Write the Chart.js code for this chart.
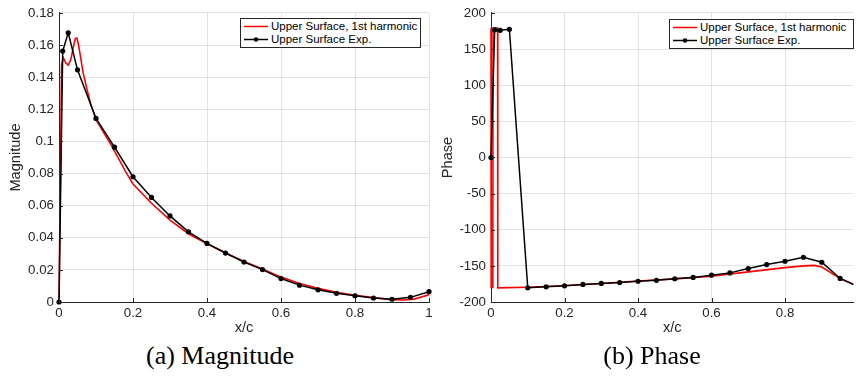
<!DOCTYPE html>
<html><head><meta charset="utf-8">
<script src="https://cdn.jsdelivr.net/npm/chart.js@4/dist/chart.umd.min.js"></script>
<style>
html,body{margin:0;padding:0;background:#fff;}
body{width:856px;height:388px;overflow:hidden;position:relative;font-family:"Liberation Sans",Arial,sans-serif;}
.wrap{position:absolute;top:0;}
.legend{position:absolute;background:#fff;border:1px solid #262626;box-sizing:border-box;font-size:11.5px;color:#000;}
.row{position:absolute;left:2px;height:13px;line-height:13px;white-space:nowrap;}
.row svg{position:absolute;left:0;top:2px;}
.row span{position:absolute;left:28px;top:0;}
.cap{position:absolute;top:341px;width:300px;text-align:center;font-family:"Liberation Serif","Times New Roman",serif;font-size:26px;line-height:30px;color:#000;}
</style></head>
<body>
<div class="wrap" style="left:0;width:440px;height:340px;"><canvas id="c1" width="440" height="340"></canvas></div>
<div class="wrap" style="left:430px;width:426px;height:340px;"><canvas id="c2" width="426" height="340"></canvas></div>

<div class="legend" style="left:240px;top:18px;width:181px;height:30px;">
  <div class="row" style="top:1px;"><svg width="26" height="9"><line x1="1" y1="4.5" x2="25" y2="4.5" stroke="#ff0000" stroke-width="1.5"/></svg><span>Upper Surface, 1st harmonic</span></div>
  <div class="row" style="top:14px;"><svg width="26" height="9"><line x1="1" y1="4.5" x2="25" y2="4.5" stroke="#000" stroke-width="1.5"/><circle cx="13" cy="4.5" r="2.3" fill="#000"/></svg><span>Upper Surface Exp.</span></div>
</div>
<div class="legend" style="left:669px;top:19px;width:185px;height:30px;">
  <div class="row" style="top:1px;"><svg width="26" height="9"><line x1="1" y1="4.5" x2="25" y2="4.5" stroke="#ff0000" stroke-width="1.5"/></svg><span>Upper Surface, 1st harmonic</span></div>
  <div class="row" style="top:14px;"><svg width="26" height="9"><line x1="1" y1="4.5" x2="25" y2="4.5" stroke="#000" stroke-width="1.5"/><circle cx="13" cy="4.5" r="2.3" fill="#000"/></svg><span>Upper Surface Exp.</span></div>
</div>

<div class="cap" style="left:70px;">(a) Magnitude</div>
<div class="cap" style="left:502px;">(b) Phase</div>

<script>
// ---------- DATA ----------
const seriesNames = ["Upper Surface, 1st harmonic", "Upper Surface Exp."];

// Magnitude - experiment
const magExpX = [0,0.01,0.025,0.05,0.1,0.15,0.2,0.25,0.3,0.35,0.4,0.45,0.5,0.55,0.6,0.65,0.7,0.75,0.8,0.85,0.9,0.95,1.0];
const magExpY = [0,0.1563,0.1677,0.1446,0.1143,0.0964,0.078,0.0651,0.0536,0.0437,0.0365,0.0305,0.0249,0.0202,0.0146,0.0105,0.0076,0.0054,0.0039,0.0025,0.0017,0.0029,0.0064];

// Magnitude - 1st harmonic
const magHarmX = [0,0.007,0.012,0.018,0.025,0.032,0.038,0.044,0.048,0.052,0.058,0.065,0.075,0.085,0.1,0.12,0.14,0.16,0.18,0.2,0.25,0.3,0.35,0.4,0.45,0.5,0.55,0.6,0.65,0.7,0.75,0.8,0.85,0.9,0.93,0.96,1.0];
const magHarmY = [0,0.148,0.152,0.149,0.1475,0.151,0.158,0.164,0.1645,0.161,0.153,0.143,0.133,0.124,0.1135,0.1058,0.0982,0.0897,0.0812,0.0735,0.0615,0.051,0.0425,0.0363,0.0305,0.0252,0.0205,0.0155,0.0115,0.0085,0.006,0.0042,0.0027,0.0015,0.0012,0.0018,0.0045];

// Phase - experiment
const phExpX = [0,0.01,0.025,0.05,0.1,0.15,0.2,0.25,0.3,0.35,0.4,0.45,0.5,0.55,0.6,0.65,0.7,0.75,0.8,0.85,0.9,0.95,1.0];
const phExpY = [0,176.5,176,177.5,-180.3,-179,-177.6,-175.7,-174.3,-173,-171.3,-170,-167.8,-166,-162.9,-159.7,-153.7,-148.2,-143.6,-138.1,-145,-167.4,-179];

// Phase - 1st harmonic
const phHarmX = [0,0.0005,0.005,0.0055,0.018,0.0185,0.1,0.2,0.3,0.4,0.5,0.6,0.7,0.8,0.85,0.88,0.9,0.92,0.95,0.986,1.0];
const phHarmY = [179,-180,-180,179,179,-180.5,-179.5,-177.5,-174.5,-171,-168,-164.3,-158.3,-152.4,-150,-149.3,-151.5,-158,-167.4,-175.3,-177];

// Axis ticks
const magXTicks = {min:0, max:1, step:0.2};
const magYTicks = {min:0, max:0.18, step:0.02};
const phXTicks = {min:0, max:0.986, step:0.2};
const phYTicks = {min:-200, max:200, step:50};

// ---------- CHARTS ----------
Chart.defaults.font.family = '"Liberation Sans", Arial, Helvetica, sans-serif';
Chart.defaults.color = '#262626';

const pts = (xs, ys) => xs.map((x, i) => ({x, y: ys[i]}));
const fmt = v => String(+Number(v).toFixed(4));
const AXIS = '#262626';
const GRID = 'rgba(38,38,38,0.13)';

const inwardTicks = {
  id: 'inwardTicks',
  afterDatasetsDraw(chart) {
    const {ctx, chartArea: a, scales: {x, y}} = chart;
    ctx.save();
    ctx.strokeStyle = AXIS; ctx.lineWidth = 1;
    ctx.beginPath();
    x.ticks.forEach(t => { const px = Math.round(x.getPixelForValue(t.value)) + 0.5; ctx.moveTo(px, a.bottom); ctx.lineTo(px, a.bottom - 4); });
    y.ticks.forEach(t => { const py = Math.round(y.getPixelForValue(t.value)) + 0.5; ctx.moveTo(a.left, py); ctx.lineTo(a.left + 4, py); });
    ctx.stroke();
    ctx.restore();
  }
};

function makeChart(id, harm, exp, xt, yt, yTitle, yW, yTitlePad, padRight, clipRight) {
  return new Chart(document.getElementById(id), {
    type: 'scatter',
    data: {
      datasets: [
        {label: seriesNames[0], data: harm, showLine: true, borderColor: '#ff0000', backgroundColor: '#ff0000',
         borderWidth: 1.6, pointRadius: 0, tension: 0, order: 2, clip: {left: 5, top: 5, bottom: 5, right: clipRight}},
        {label: seriesNames[1], data: exp, showLine: true, borderColor: '#000', backgroundColor: '#000',
         borderWidth: 1.5, pointRadius: 2.6, pointHoverRadius: 2.6, pointBorderWidth: 0, tension: 0, order: 1,
         clip: {left: 5, top: 5, bottom: 5, right: clipRight}}
      ]
    },
    options: {
      responsive: false, animation: false, devicePixelRatio: 1,
      layout: {padding: {top: 11, right: padRight, left: 0, bottom: 0}},
      plugins: {legend: {display: false}, tooltip: {enabled: false}},
      scales: {
        x: {
          type: 'linear', min: xt.min, max: xt.max,
          ticks: {stepSize: xt.step, includeBounds: false, padding: 3, maxRotation: 0, font: {size: 13.3}, color: AXIS, callback: fmt},
          grid: {color: GRID, drawTicks: false, lineWidth: 1},
          border: {color: AXIS, width: 1},
          title: {display: true, text: 'x/c', font: {size: 14.6}, color: AXIS, padding: {top: 0, bottom: 3}},
          afterFit(s) { s.height = 38; }
        },
        y: {
          type: 'linear', min: yt.min, max: yt.max,
          ticks: {stepSize: yt.step, padding: 5, font: {size: 13.3}, color: AXIS, callback: fmt},
          grid: {color: GRID, drawTicks: false, lineWidth: 1},
          border: {color: AXIS, width: 1},
          title: {display: true, text: yTitle, font: {size: 14.6}, color: AXIS, padding: {top: yTitlePad, bottom: 0}},
          afterFit(s) { s.width = yW; }
        }
      }
    },
    plugins: [inwardTicks]
  });
}

makeChart('c1', pts(magHarmX, magHarmY), pts(magExpX, magExpY), magXTicks, magYTicks, 'Magnitude', 59, 7, 11, 5);
makeChart('c2', pts(phHarmX, phHarmY), pts(phExpX, phExpY), phXTicks, phYTicks, 'Phase', 61, 9, 0, 0);
</script>
</body></html>
